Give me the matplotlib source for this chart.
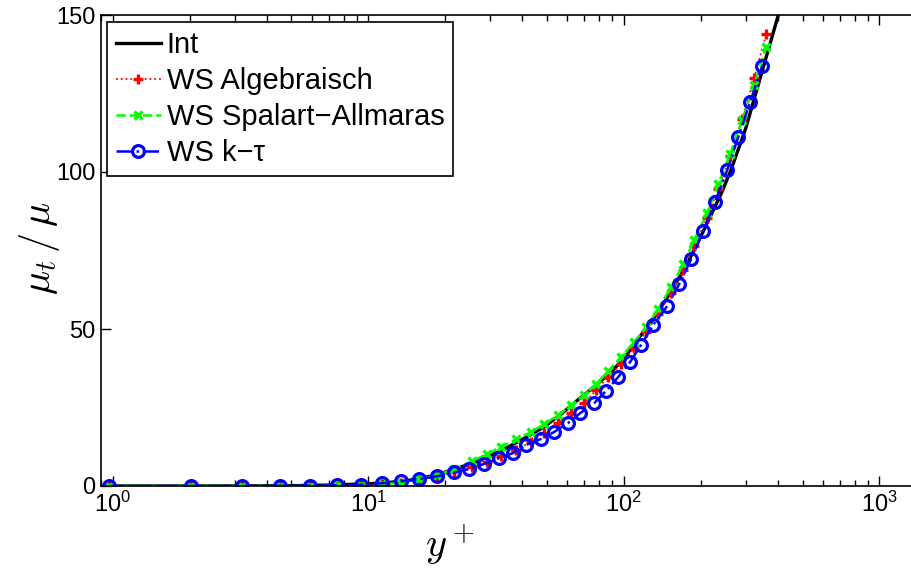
import numpy as np
import matplotlib
matplotlib.use("Agg")
import matplotlib.pyplot as plt
from matplotlib.ticker import LogLocator, NullFormatter

# Int (reference solution)
yp_int = [1, 2, 3, 5, 7, 10, 12, 14.7, 18, 23, 27, 31, 35, 39.5, 48.7, 57, 66, 77, 89,
          100, 114, 130, 149, 175, 200, 240, 262, 300, 350, 402, 450]
mu_int = [0, 0, 0.02, 0.1, 0.3, 0.7, 1.1, 1.9, 3.3, 6.0, 8.0, 10.2, 12.3, 14.6, 18.8,
          23.0, 27.4, 31.8, 36.3, 40.5, 47.0, 53.0, 60.5, 70.0, 79.5, 93.0, 100.5,
          114.0, 133.0, 150.0, 166.0]

# WS Algebraisch and WS Spalart-Allmaras (same grid)
yp_ws = [0.97, 2.03, 3.21, 4.52, 5.93, 7.55, 9.38, 11.34, 13.45, 15.82, 18.61, 21.69,
         25.50, 29.19, 33.11, 37.91, 43.39, 48.77, 55.34, 62.21, 69.94, 77.93, 86.80,
         97.59, 109.7, 122.3, 136.2, 153.1, 170.6, 188.4, 211.8, 233.8, 260.5, 290.3,
         323.4, 360.5]
mu_alg = [0, 0, 0, 0, 0, 0.1, 0.2, 0.5, 1.1, 2.0, 3.1, 4.5, 6.1, 7.8, 9.6, 11.6, 14.0,
          16.9, 20.1, 23.2, 26.4, 30.6, 34.7, 38.9, 43.9, 49.0, 54.8, 61.5, 68.8, 76.4,
          85.4, 94.6, 105.2, 117.0, 130.0, 144.0]
mu_sa = [0, 0, 0, 0, 0, 0.2, 0.3, 0.5, 1.1, 2.1, 3.5, 5.4, 7.9, 10.2, 12.5, 14.9, 17.2,
         19.7, 22.6, 25.8, 29.0, 32.5, 36.6, 41.1, 45.9, 50.6, 56.4, 63.4, 70.7, 78.3,
         86.9, 96.2, 105.7, 116.6, 127.7, 139.8]

# WS k-tau
yp_kt = [0.969, 2.028, 3.21, 4.52, 5.93, 7.55, 9.38, 11.34, 13.45, 15.82, 18.61, 21.69,
         24.82, 28.40, 32.52, 36.89, 41.48, 47.49, 53.38, 60.55, 67.45, 76.52, 85.25,
         94.99, 105.8, 116.9, 130.2, 147.7, 164.6, 183.4, 204.3, 227.6, 253.6, 280.1,
         312.0, 347.6]
mu_kt = [0, 0, 0, 0.05, 0.1, 0.2, 0.4, 0.9, 1.5, 2.2, 3.1, 4.3, 5.4, 7.0, 8.9, 10.5,
         13.1, 15.0, 17.2, 20.1, 23.2, 26.4, 30.3, 34.7, 39.5, 45.0, 51.3, 57.3, 64.3,
         72.3, 81.2, 90.4, 100.6, 111.1, 122.3, 133.8]

plt.rcParams["font.family"] = ["Liberation Sans", "DejaVu Sans"]
plt.rcParams["mathtext.fontset"] = "cm"

W, H = 912, 570
fig = plt.figure(figsize=(W / 100, H / 100), dpi=100)
# axes runs past the right edge of the picture, like the cropped original
ax_left, ax_right, ax_top, ax_bot = 101, 924.5, 15, 486
ax = fig.add_axes([ax_left / W, 1 - ax_bot / H, (ax_right - ax_left) / W, (ax_bot - ax_top) / H])

ax.plot(yp_int, mu_int, color="black", linewidth=2.4, label="Int")
ax.plot(yp_ws, mu_alg, color="#ff0000", linestyle=":", linewidth=1.3, marker="+",
        markersize=7, markeredgewidth=2.4, label="WS Algebraisch")
ax.plot(yp_ws, mu_sa, color="#00ff00", linestyle="--", linewidth=1.8, marker="x",
        markersize=5.5, markeredgewidth=2.4, label="WS Spalart\u2212Allmaras")
ax.plot(yp_kt, mu_kt, color="#0000ff", linestyle="-.", linewidth=1.8, marker="o",
        markersize=8.5, markeredgewidth=2.3, markerfacecolor="none", label="WS k\u2212\u03c4")

ax.set_xscale("log")
ax.set_xlim(0.9, 1500)
ax.set_ylim(0, 150)
ax.set_yticks([0, 50, 100, 150])
ax.xaxis.set_major_locator(LogLocator(base=10, numticks=10))
ax.xaxis.set_minor_locator(LogLocator(base=10, subs=np.arange(2, 10), numticks=10))
ax.xaxis.set_minor_formatter(NullFormatter())

ax.tick_params(which="both", direction="in", top=True, right=True, labelsize=17, pad=4)
ax.tick_params(which="major", length=7, width=1)
ax.tick_params(which="minor", length=4, width=1)
for s in ax.spines.values():
    s.set_linewidth(1.2)

# axis labels at their pixel positions
fig.text(450 / W, 1 - 545 / H, r"$y^+$", fontsize=29, ha="center", va="center")
fig.text(40 / W, 1 - 248 / H, r"$\mu_t\,/\,\mu$", fontsize=29, ha="center", va="center",
         rotation=90)

leg = ax.legend(loc="upper left", bbox_to_anchor=(6 / (ax_right - ax_left), 1 - 7 / (ax_bot - ax_top)),
                fontsize=21, handlelength=1.55, handletextpad=0.2, labelspacing=0.28,
                borderpad=0.3, borderaxespad=0, numpoints=1, fancybox=False,
                framealpha=1, edgecolor="black")
leg.get_frame().set_linewidth(1.2)

fig.savefig("out.png", dpi=100)
